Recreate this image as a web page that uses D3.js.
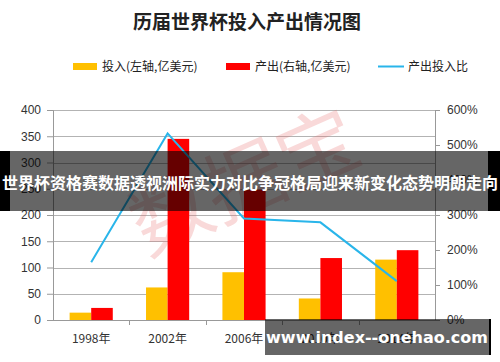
<!DOCTYPE html>
<html><head><meta charset="utf-8">
<script src="https://cdn.jsdelivr.net/npm/d3@7"></script>
<style>body{margin:0;background:#fff}svg{display:block}</style>
</head><body>
<svg id="c" width="500" height="362"></svg>
<script>
const years = ["1998年","2002年","2006年","2010年","2014年"];
const investment = [14, 62, 91, 41, 115];
const output = [23, 345, 248, 118, 133];
const ratio = [1.65, 5.33, 2.90, 2.79, 1.11];
const leftTicks = [0,50,100,150,200,250,300,350,400];
const rightTicks = [0,1,2,3,4,5,6];
const seriesNames = ["投入(左轴,亿美元)","产出(右轴,亿美元)","产出投入比"];
const colors = ["#FFC000","#FF0000","#29B5EA"];

const svg = d3.select("#c");
const L = 53, R = 435, T = 110, B = 320;
const x0 = d3.scaleBand().domain(years).range([L,R]).padding(0);
const xs = d3.scaleBand().domain([0,1]).range([0,x0.bandwidth()]).paddingInner(0).paddingOuter(0.77);
const yL = d3.scaleLinear().domain([0,400]).range([B,T]);
const yR = d3.scaleLinear().domain([0,6]).range([B,T]);
const font = "'Liberation Sans',Arial,sans-serif";

// title
svg.append("text").attr("x",247).attr("y",29).attr("text-anchor","middle")
  .attr("font-family","'Noto Sans CJK SC',sans-serif").attr("font-weight","bold")
  .attr("font-size",19).attr("fill","#222").text("历届世界杯投入产出情况图");

// legend
const lg = [{x:73,tx:102},{x:226,tx:255},{x:378,tx:408}];
seriesNames.forEach((n,i)=>{
  if(i<2) svg.append("rect").attr("x",lg[i].x).attr("y",63).attr("width",24).attr("height",7).attr("fill",colors[i]);
  else svg.append("line").attr("x1",lg[i].x).attr("x2",lg[i].x+26).attr("y1",66.5).attr("y2",66.5).attr("stroke",colors[i]).attr("stroke-width",2);
  svg.append("text").attr("x",lg[i].tx).attr("y",71).attr("font-family","'Noto Sans CJK SC',sans-serif")
    .attr("font-size",12).attr("fill","#222").text(n);
});

// gridlines
svg.append("g").selectAll("line").data(leftTicks).join("line")
  .attr("x1",L).attr("x2",R).attr("y1",d=>Math.round(yL(d))+0.5).attr("y2",d=>Math.round(yL(d))+0.5)
  .attr("stroke","#b3b3b3").attr("stroke-width",1);

// watermark
svg.append("text").attr("transform","translate(242,176) rotate(-24)").attr("text-anchor","middle")
  .attr("dominant-baseline","central")
  .attr("font-family","'Noto Sans CJK SC',sans-serif").attr("font-size",80).attr("font-weight","normal")
  .attr("fill","#e86a6a").attr("opacity",0.25).text("数据宝");

// axes
const axL = svg.append("g").attr("transform",`translate(${L},0)`)
  .call(d3.axisLeft(yL).tickValues(leftTicks).tickSize(6).tickPadding(6));
const axR = svg.append("g").attr("transform",`translate(${R},0)`)
  .call(d3.axisRight(yR).tickValues(rightTicks).tickSize(5).tickPadding(7).tickFormat(d=>d*100+"%"));
const axB = svg.append("g").attr("transform",`translate(0,${B})`)
  .call(d3.axisBottom(x0).tickSize(0).tickPadding(14));
axB.select(".domain").remove();
svg.append("line").attr("x1",L).attr("x2",R).attr("y1",B+0.5).attr("y2",B+0.5).attr("stroke","#999");
svg.append("g").selectAll("line").data(d3.range(1,years.length)).join("line")
  .attr("x1",i=>Math.round(L+i*x0.step())+0.5).attr("x2",i=>Math.round(L+i*x0.step())+0.5)
  .attr("y1",B).attr("y2",B+5).attr("stroke","#999");
[axL,axR,axB].forEach(a=>{
  a.selectAll(".domain").attr("stroke","#999");
  a.selectAll(".tick line").attr("stroke","#999");
  a.selectAll("text").attr("font-family","'Noto Sans CJK SC','Liberation Sans',sans-serif").attr("font-size",12).attr("fill","#333");
});
axL.selectAll("text").attr("font-family",font);
axR.selectAll("text").attr("font-family",font);

// bars
const g = svg.append("g");
[investment, output].forEach((arr,si)=>{
  g.selectAll(null).data(arr).join("rect")
    .attr("x",(d,i)=>x0(years[i])+xs(si)).attr("width",xs.bandwidth())
    .attr("y",d=>yL(d)).attr("height",d=>B-yL(d)).attr("fill",colors[si]);
});

// line
svg.append("path").datum(ratio)
  .attr("d",d3.line().x((d,i)=>x0(years[i])+x0.bandwidth()/2).y(d=>yR(d)))
  .attr("fill","none").attr("stroke",colors[2]).attr("stroke-width",2);

// banner overlay
svg.append("rect").attr("x",0).attr("y",151).attr("width",500).attr("height",60).attr("fill","#000").attr("opacity",0.6);
svg.append("rect").attr("x",0).attr("y",151).attr("width",10).attr("height",60).attr("fill","#000");
svg.append("rect").attr("x",488).attr("y",151).attr("width",12).attr("height",60).attr("fill","#000");
svg.append("text").attr("x",250).attr("y",189).attr("text-anchor","middle")
  .attr("font-family","'Noto Sans CJK SC',sans-serif").attr("font-weight","bold").attr("font-size",16)
  .attr("fill","#fff").text("世界杯资格赛数据透视洲际实力对比争冠格局迎来新变化态势明朗走向");

// bottom url overlay
svg.append("rect").attr("x",265).attr("y",319).attr("width",224).attr("height",36).attr("fill","#000").attr("opacity",0.6);
svg.append("rect").attr("x",489).attr("y",319).attr("width",2).attr("height",36).attr("fill","#000");
svg.append("text").attr("x",377).attr("y",343).attr("text-anchor","middle")
  .attr("font-family","'DejaVu Sans',sans-serif").attr("font-weight","bold").attr("font-size",16)
  .attr("fill","#fff").text("www.index--onehao.com");
</script>
</body></html>
